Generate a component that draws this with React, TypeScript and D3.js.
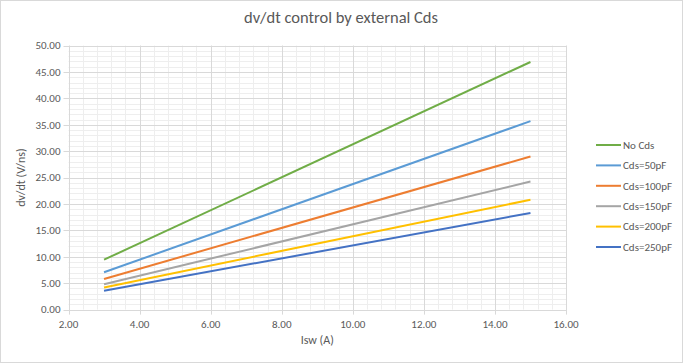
import React, { useEffect, useRef } from 'react'
import * as d3 from 'd3'

const title = 'dv/dt control by external Cds'
const xLabel = 'Isw (A)'
const yLabel = 'dv/dt (V/ns)'

const isw = [3, 15]
const seriesNames = ['No Cds', 'Cds=50pF', 'Cds=100pF', 'Cds=150pF', 'Cds=200pF', 'Cds=250pF']
const noCds = [9.45, 46.9]
const cds50 = [7.07, 35.7]
const cds100 = [5.8, 29.0]
const cds150 = [4.8, 24.25]
const cds200 = [4.2, 20.8]
const cds250 = [3.55, 18.3]
const seriesValues = [noCds, cds50, cds100, cds150, cds200, cds250]
const colors = ['#70AD47', '#5B9BD5', '#ED7D31', '#A5A5A5', '#FFC000', '#4472C4']

const xTicks = [2, 4, 6, 8, 10, 12, 14, 16]
const yTicks = [0, 5, 10, 15, 20, 25, 30, 35, 40, 45, 50]

const W = 683
const H = 363
const FONT = "Calibri, Carlito, 'Open Sans', sans-serif"
const TEXT = '#595959'

function App() {
  const ref = useRef<SVGSVGElement | null>(null)

  useEffect(() => {
    const svg = d3.select(ref.current)
    svg.selectAll('*').remove()

    const left = 68.5
    const right = 566
    const top = 45.6
    const bottom = 309.6

    const x = d3.scaleLinear().domain([2, 16]).range([left, right])
    const y = d3.scaleLinear().domain([0, 50]).range([bottom, top])

    svg.append('rect')
      .attr('x', 0.5).attr('y', 0.5)
      .attr('width', W - 1).attr('height', H - 1)
      .attr('fill', '#fff').attr('stroke', '#d9d9d9')

    // minor grid
    const minorX = d3.range(2, 16.001, 0.4)
    const minorY = d3.range(0, 50.001, 1)
    svg.append('g').selectAll('line').data(minorX).enter().append('line')
      .attr('x1', d => Math.round(x(d)) + 0.5).attr('x2', d => Math.round(x(d)) + 0.5)
      .attr('y1', top).attr('y2', bottom)
      .attr('stroke', '#eeeeee')
    svg.append('g').selectAll('line').data(minorY).enter().append('line')
      .attr('y1', d => Math.round(y(d)) + 0.5).attr('y2', d => Math.round(y(d)) + 0.5)
      .attr('x1', left).attr('x2', right)
      .attr('stroke', '#eeeeee')

    // major grid
    svg.append('g').selectAll('line').data(xTicks).enter().append('line')
      .attr('x1', d => Math.round(x(d)) + 0.5).attr('x2', d => Math.round(x(d)) + 0.5)
      .attr('y1', top).attr('y2', bottom + 5)
      .attr('stroke', '#d9d9d9')
    svg.append('g').selectAll('line').data(yTicks).enter().append('line')
      .attr('y1', d => Math.round(y(d)) + 0.5).attr('y2', d => Math.round(y(d)) + 0.5)
      .attr('x1', left - 5).attr('x2', right)
      .attr('stroke', '#d9d9d9')

    // tick labels
    svg.append('g').selectAll('text').data(yTicks).enter().append('text')
      .attr('x', left - 8).attr('y', d => y(d))
      .attr('dy', '0.35em').attr('text-anchor', 'end')
      .attr('font-family', FONT).attr('font-size', 11).attr('fill', TEXT)
      .text(d => d3.format('.2f')(d))
    svg.append('g').selectAll('text').data(xTicks).enter().append('text')
      .attr('x', d => x(d)).attr('y', bottom + 18)
      .attr('text-anchor', 'middle')
      .attr('font-family', FONT).attr('font-size', 11).attr('fill', TEXT)
      .text(d => d3.format('.2f')(d))

    // lines
    const line = d3.line<number>().x((_, i) => x(isw[i])).y(d => y(d))
    seriesValues.forEach((vals, i) => {
      svg.append('path').datum(vals)
        .attr('d', line)
        .attr('fill', 'none')
        .attr('stroke', colors[i])
        .attr('stroke-width', 2)
    })

    // titles
    svg.append('text')
      .attr('x', 341).attr('y', 23).attr('text-anchor', 'middle')
      .attr('font-family', FONT).attr('font-size', 16.5).attr('fill', TEXT)
      .text(title)
    svg.append('text')
      .attr('x', (left + right) / 2).attr('y', 344).attr('text-anchor', 'middle')
      .attr('font-family', FONT).attr('font-size', 12).attr('fill', TEXT)
      .text(xLabel)
    svg.append('text')
      .attr('transform', `translate(25,${(top + bottom) / 2}) rotate(-90)`)
      .attr('text-anchor', 'middle')
      .attr('font-family', FONT).attr('font-size', 12).attr('fill', TEXT)
      .text(yLabel)

    // legend
    const lg = svg.append('g')
    seriesNames.forEach((name, i) => {
      const ly = 145 + i * 20.4
      lg.append('line')
        .attr('x1', 596).attr('x2', 621).attr('y1', ly).attr('y2', ly)
        .attr('stroke', colors[i]).attr('stroke-width', 2)
      lg.append('text')
        .attr('x', 623).attr('y', ly).attr('dy', '0.35em')
        .attr('font-family', FONT).attr('font-size', 11).attr('fill', TEXT)
        .text(name)
    })
  }, [])

  return (
    <svg
      ref={ref}
      width={W}
      height={H}
      style={{ position: 'absolute', left: 0, top: 0, display: 'block' }}
    />
  )
}

export default App
